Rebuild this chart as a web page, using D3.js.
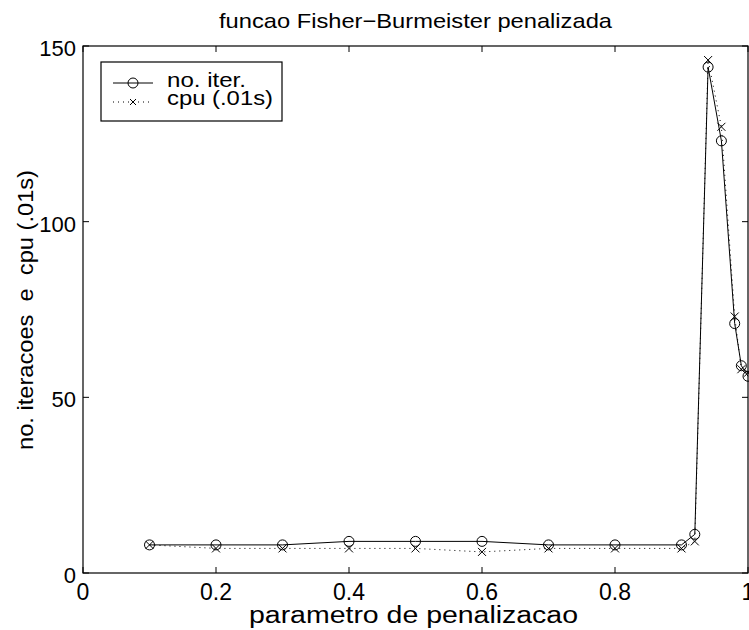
<!DOCTYPE html>
<html>
<head>
<meta charset="utf-8">
<script src="https://cdn.jsdelivr.net/npm/d3@7"></script>
<style>
  body { margin: 0; background: #fff; }
  text { font-family: "Liberation Sans", Arial, sans-serif; fill: #000; white-space: pre; }
</style>
</head>
<body>
<svg width="749" height="630"></svg>
<script>
"use strict";

const penal = [0.1, 0.2, 0.3, 0.4, 0.5, 0.6, 0.7, 0.8, 0.9, 0.92, 0.94, 0.96, 0.98, 0.99, 1.0];
const iterVals = [8, 8, 8, 9, 9, 9, 8, 8, 8, 11, 144, 123, 71, 59, 56];
const cpuVals = [8, 7, 7, 7, 7, 6, 7, 7, 7, 9, 146, 127, 73, 58, 57];
const xTicks = [0, 0.2, 0.4, 0.6, 0.8, 1];
const yTicks = [0, 50, 100, 150];

const svg = d3.select("svg");
const margin = { top: 46, left: 83, right: 1, bottom: 57 };
const width = +svg.attr("width");
const height = +svg.attr("height");
const innerWidth = width - margin.left - margin.right;
const innerHeight = height - margin.top - margin.bottom;

const x = d3.scaleLinear().domain([0, 1]).range([0, innerWidth]);
const y = d3.scaleLinear().domain([0, 150]).range([innerHeight, 0]);

const g = svg.append("g").attr("transform", `translate(${margin.left},${margin.top})`);

// box
g.append("rect")
  .attr("width", innerWidth)
  .attr("height", innerHeight)
  .attr("fill", "none")
  .attr("stroke", "#000")
  .attr("stroke-width", 1.2);

// ticks inside on all four sides (matlab style)
const tickLen = 6;
xTicks.forEach((t) => {
  g.append("line").attr("x1", x(t)).attr("x2", x(t)).attr("y1", innerHeight).attr("y2", innerHeight - tickLen).attr("stroke", "#000");
  g.append("line").attr("x1", x(t)).attr("x2", x(t)).attr("y1", 0).attr("y2", tickLen).attr("stroke", "#000");
  g.append("text")
    .attr("x", x(t))
    .attr("y", innerHeight + 27)
    .attr("text-anchor", "middle")
    .style("font-size", "23px")
    .text(d3.format("~g")(t));
});
yTicks.forEach((t) => {
  g.append("line").attr("x1", 0).attr("x2", tickLen).attr("y1", y(t)).attr("y2", y(t)).attr("stroke", "#000");
  g.append("line").attr("x1", innerWidth).attr("x2", innerWidth - tickLen).attr("y1", y(t)).attr("y2", y(t)).attr("stroke", "#000");
  g.append("text")
    .attr("x", -7)
    .attr("y", y(t) + 10)
    .attr("text-anchor", "end")
    .style("font-size", "22px")
    .text(t);
});

const data = penal.map((p, i) => ({ p: p, iter: iterVals[i], cpu: cpuVals[i] }));

const lineIter = d3.line().x((d) => x(d.p)).y((d) => y(d.iter));
const lineCpu = d3.line().x((d) => x(d.p)).y((d) => y(d.cpu));

g.append("path")
  .datum(data)
  .attr("d", lineCpu)
  .attr("fill", "none")
  .attr("stroke", "#000")
  .attr("stroke-width", 1)
  .attr("stroke-dasharray", "1,4");

g.append("path")
  .datum(data)
  .attr("d", lineIter)
  .attr("fill", "none")
  .attr("stroke", "#000")
  .attr("stroke-width", 1);

const xMark = (sel, cx, cy, s) => {
  sel.append("path")
    .attr("d", `M${cx - s},${cy - s}L${cx + s},${cy + s}M${cx - s},${cy + s}L${cx + s},${cy - s}`)
    .attr("stroke", "#000")
    .attr("stroke-width", 1)
    .attr("fill", "none");
};

data.forEach((d) => {
  xMark(g, x(d.p), y(d.cpu), 4);
});

g.selectAll("circle.iter")
  .data(data)
  .enter()
  .append("circle")
  .attr("class", "iter")
  .attr("cx", (d) => x(d.p))
  .attr("cy", (d) => y(d.iter))
  .attr("r", 5)
  .attr("fill", "none")
  .attr("stroke", "#000")
  .attr("stroke-width", 1);

// legend
const leg = svg.append("g").attr("transform", "translate(101,62)");
leg.append("rect")
  .attr("width", 181)
  .attr("height", 59)
  .attr("fill", "#fff")
  .attr("stroke", "#000")
  .attr("stroke-width", 1.2);
leg.append("line").attr("x1", 12).attr("x2", 52).attr("y1", 21).attr("y2", 21).attr("stroke", "#000");
leg.append("circle").attr("cx", 32).attr("cy", 21).attr("r", 5).attr("fill", "none").attr("stroke", "#000");
leg.append("line").attr("x1", 12).attr("x2", 52).attr("y1", 40).attr("y2", 40).attr("stroke", "#000").attr("stroke-dasharray", "1,4");
xMark(leg, 32, 40, 3);
leg.append("text").attr("x", 66).attr("y", 25).style("font-size", "21px")
  .attr("textLength", 79).attr("lengthAdjust", "spacingAndGlyphs").text("no. iter.");
leg.append("text").attr("x", 66).attr("y", 43).style("font-size", "21px")
  .attr("textLength", 106).attr("lengthAdjust", "spacingAndGlyphs").text("cpu (.01s)");

// titles
svg.append("text")
  .attr("x", 219)
  .attr("y", 28)
  .style("font-size", "21px")
  .attr("textLength", 393)
  .attr("lengthAdjust", "spacingAndGlyphs")
  .text("funcao Fisher\u2212Burmeister penalizada");

svg.append("text")
  .attr("x", 249)
  .attr("y", 623)
  .style("font-size", "23px")
  .attr("textLength", 329)
  .attr("lengthAdjust", "spacingAndGlyphs")
  .text("parametro de penalizacao");

svg.append("text")
  .attr("transform", "translate(33,450) rotate(-90)")
  .style("font-size", "22px")
  .attr("textLength", 280)
  .attr("lengthAdjust", "spacingAndGlyphs")
  .text("no. iteracoes  e  cpu (.01s)");
</script>
</body>
</html>
